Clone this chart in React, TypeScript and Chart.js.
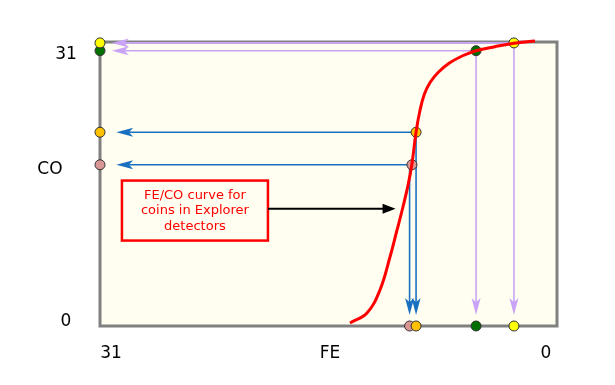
import React, { useEffect, useRef } from "react";
import { Chart, registerables } from "chart.js";

Chart.register(...registerables);

// FE/CO curve (FE axis runs 31 -> 0 from left to right)
const curveFE = [14.04, 12.89, 12.01, 11.33, 10.85, 10.45, 10.1, 9.84, 9.56, 9.3, 9.0, 8.6, 8.05, 7.3, 6.4, 5.49, 4.21, 2.92, 1.49];
const curveCO = [0.33, 1.42, 3.93, 7.53, 10.48, 12.99, 15.4, 17.68, 21.18, 23.5, 25.3, 26.6, 27.7, 28.7, 29.5, 30.05, 30.49, 30.86, 31.11];

// coin markers: pink, orange, green, yellow
const markerColors = ["#d99694", "#ffc000", "#007000", "#ffff00"];
const markerFE = [9.84, 9.56, 5.49, 2.92];
const markerCO = [17.6, 21.15, 30.05, 30.9];
const bottomFE = [10.0, 9.56, 5.49, 2.92];
const arrowColors = ["#1a70c0", "#1a70c0", "#c9a3f7", "#c9a3f7"];
const arrowTipFE = 29.9; // horizontal arrow tips
const arrowTipCO = 1.2; // vertical arrow tips

const yLabels = ["31", "CO", "0"];
const xLabels = ["31", "FE", "0"];
const noteLines = ["FE/CO curve for", "coins in Explorer", "detectors"];
const noteFE = 24.56;
const noteCO = 12.6;
const notePointerFE = [19.6, 10.95];
const notePointerCO = 12.8;

const FONT = "DejaVu Sans";

function arrowHead(ctx: CanvasRenderingContext2D, x: number, y: number, dx: number, dy: number, len: number, half: number) {
  const px = -dy, py = dx;
  ctx.beginPath();
  ctx.moveTo(x, y);
  ctx.lineTo(x - dx * len + px * half, y - dy * len + py * half);
  ctx.lineTo(x - dx * len * 0.75, y - dy * len * 0.75);
  ctx.lineTo(x - dx * len - px * half, y - dy * len - py * half);
  ctx.closePath();
  ctx.fill();
}

const decorPlugin = {
  id: "decor",
  beforeDatasetsDraw(chart: any) {
    const { ctx, chartArea: a, scales } = chart;
    const xs = scales.x, ys = scales.y;
    ctx.save();
    ctx.fillStyle = "#fffef0";
    ctx.fillRect(a.left, a.top, a.right - a.left, a.bottom - a.top);
    ctx.strokeStyle = "#808080";
    ctx.lineWidth = 3;
    ctx.strokeRect(a.left, a.top, a.right - a.left, a.bottom - a.top);

    // arrows
    for (let i = 0; i < markerFE.length; i++) {
      const cx = xs.getPixelForValue(markerFE[i]);
      const cy = ys.getPixelForValue(markerCO[i]);
      const bx = xs.getPixelForValue(bottomFE[i]);
      const tipX = xs.getPixelForValue(arrowTipFE + (i >= 2 ? 0.3 : 0));
      const tipY = ys.getPixelForValue(arrowTipCO);
      ctx.strokeStyle = arrowColors[i];
      ctx.fillStyle = arrowColors[i];
      ctx.lineWidth = 1.6;
      ctx.beginPath();
      ctx.moveTo(cx, cy);
      ctx.lineTo(tipX + 10, cy);
      ctx.stroke();
      arrowHead(ctx, tipX, cy, -1, 0, 17, 4.5);
      ctx.beginPath();
      ctx.moveTo(bx, cy);
      ctx.lineTo(bx, tipY - 10);
      ctx.stroke();
      arrowHead(ctx, bx, tipY, 0, 1, 17, 4.5);
    }

    // note box
    const nx = xs.getPixelForValue(noteFE);
    const ny = ys.getPixelForValue(noteCO);
    ctx.strokeStyle = "#ff0000";
    ctx.lineWidth = 2.5;
    ctx.strokeRect(nx - 73, ny - 30, 146, 60);
    ctx.fillStyle = "#ff0000";
    ctx.font = `13px "${FONT}"`;
    ctx.textAlign = "center";
    ctx.textBaseline = "middle";
    noteLines.forEach((t, k) => ctx.fillText(t, nx, ny - 15 + k * 15.5));

    // note pointer
    const p0 = xs.getPixelForValue(notePointerFE[0]);
    const p1 = xs.getPixelForValue(notePointerFE[1]);
    const py = ys.getPixelForValue(notePointerCO);
    ctx.strokeStyle = "#000";
    ctx.fillStyle = "#000";
    ctx.lineWidth = 1.8;
    ctx.beginPath();
    ctx.moveTo(p0, py);
    ctx.lineTo(p1 - 10, py);
    ctx.stroke();
    ctx.beginPath();
    ctx.moveTo(p1, py);
    ctx.lineTo(p1 - 13, py - 5);
    ctx.lineTo(p1 - 13, py + 5);
    ctx.closePath();
    ctx.fill();

    // axis labels
    ctx.fillStyle = "#000";
    ctx.font = `17px "${FONT}"`;
    ctx.textBaseline = "middle";
    ctx.textAlign = "center";
    const yPos = [a.top + 13, (a.top + a.bottom) / 2 - 14, a.bottom - 4];
    const yX = [66, 50, 66];
    yLabels.forEach((t, k) => ctx.fillText(t, yX[k], yPos[k]));
    const xPos = [a.left + 11, 330, a.right - 11];
    xLabels.forEach((t, k) => ctx.fillText(t, xPos[k], a.bottom + 28));
    ctx.restore();
  },
};

export default function App() {
  const ref = useRef<HTMLCanvasElement>(null);
  useEffect(() => {
    document.body.style.margin = "0";
    const curve = curveFE.map((x, i) => ({ x, y: curveCO[i] }));
    const onCurve = markerFE.map((x, i) => ({ x, y: markerCO[i] }));
    const onLeft = markerCO.map((y) => ({ x: 31, y }));
    const onBottom = bottomFE.map((x) => ({ x, y: 0 }));
    const chart = new Chart(ref.current!, {
      type: "scatter",
      data: {
        datasets: [
          {
            type: "line",
            data: curve,
            borderColor: "#ff0000",
            borderWidth: 3,
            pointRadius: 0,
            tension: 0.4,
            clip: false,
          } as any,
          {
            data: [...onCurve, ...onLeft, ...onBottom],
            pointRadius: 5,
            pointBackgroundColor: [...markerColors, ...markerColors, ...markerColors],
            pointBorderColor: "#333",
            pointBorderWidth: 1,
            clip: false,
          } as any,
        ],
      },
      options: {
        animation: false,
        responsive: false,
        layout: { padding: { left: 100, right: 58, top: 42, bottom: 59 } },
        plugins: { legend: { display: false }, tooltip: { enabled: false } },
        scales: {
          x: { type: "linear", min: 0, max: 31, reverse: true, display: false },
          y: { type: "linear", min: 0, max: 31, display: false },
        },
      },
      plugins: [decorPlugin],
    });
    return () => chart.destroy();
  }, []);
  return (
    <div style={{ width: 615, height: 385, background: "#fff" }}>
      <canvas ref={ref} width={615} height={385} style={{ display: "block" }} />
    </div>
  );
}
